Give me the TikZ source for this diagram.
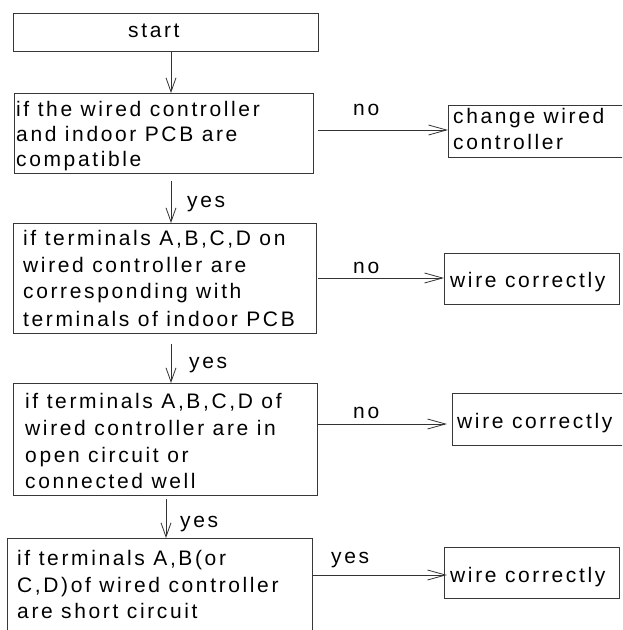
\documentclass[tikz,border=0pt]{standalone}
\usepackage{fontspec}
\setmainfont{Liberation Sans}[LetterSpace=12.5]
\usetikzlibrary{arrows.meta,calc}
\tikzset{
  box/.style={draw=black!78, line width=0.9pt, inner sep=0pt, anchor=north west},
  txt/.style={anchor=base west, inner sep=0pt, font=\fontsize{21}{26}\selectfont},
  conn/.style={draw=black!80, line width=0.8pt},
  arrv/.style={conn, -{Straight Barb[length=14pt,width=10pt]}},
  arrh/.style={conn, -{Straight Barb[length=18pt,width=10pt]}},
}
\begin{document}
\begin{tikzpicture}[x=1pt,y=-1pt]
\useasboundingbox (0,0) rectangle (622,630);
\clip (0,0) rectangle (622,630);
% boxes
\node[box, minimum width=305pt, minimum height=38pt] (s) at (13,13) {};
\node[box, minimum width=299pt, minimum height=80pt] (b2) at (14,93) {};
\node[box, minimum width=180pt, minimum height=52pt] (c1) at (448,105) {};
\node[box, minimum width=303pt, minimum height=110pt] (b3) at (13,223) {};
\node[box, minimum width=175pt, minimum height=51pt] (w2) at (444,253) {};
\node[box, minimum width=304pt, minimum height=112pt] (b4) at (13,383) {};
\node[box, minimum width=175pt, minimum height=52pt] (w3) at (452,393) {};
\node[box, minimum width=305pt, minimum height=100pt] (b5) at (7,538) {};
\node[box, minimum width=175pt, minimum height=51pt] (w4) at (444,547) {};
% texts
\node[txt] (st) at (128,37) {start};
\node[txt] (b2a) at (16,116) {if the wired controller};
\node[txt] (b2b) at (16,141) {and indoor PCB are};
\node[txt] (b2c) at (16,166) {compatible};
\node[txt] (c1a) at (453,123) {change wired};
\node[txt] (c1b) at (453,149) {controller};
\node[txt] (b3a) at (23,245) {if terminals A,B,C,D on};
\node[txt] (b3b) at (23,272) {wired controller are};
\node[txt] (b3c) at (23,298) {corresponding with};
\node[txt] (b3d) at (23,326) {terminals of indoor PCB};
\node[txt] (w2a) at (450,287) {wire correctly};
\node[txt] (b4a) at (25,408) {if terminals A,B,C,D of};
\node[txt] (b4b) at (25,435) {wired controller are in};
\node[txt] (b4c) at (25,462) {open circuit or};
\node[txt] (b4d) at (25,488) {connected well};
\node[txt] (w3a) at (457,428) {wire correctly};
\node[txt] (b5a) at (17,565) {if terminals A,B(or};
\node[txt] (b5b) at (17,592) {C,D)of wired controller};
\node[txt] (b5c) at (17,618) {are short circuit};
\node[txt] (w4a) at (450,582) {wire correctly};
% labels
\node[txt] (n1) at (353,115) {no};
\node[txt] (n2) at (353,273) {no};
\node[txt] (n3) at (353,418) {no};
\node[txt] (y4) at (331,563) {yes};
\node[txt] (y1) at (187,207) {yes};
\node[txt] (y2) at (189,368) {yes};
\node[txt] (y3) at (180,527) {yes};
% guide coordinates
\coordinate (ax) at (171,0);
\coordinate (ax2) at (166,0);
\coordinate (h1) at (0,130);
\coordinate (h2) at (0,278);
\coordinate (h3) at (0,424);
\coordinate (h4) at (0,575);
% vertical connectors
\draw[arrv] (s.south -| ax) -- (b2.north -| ax);
\draw[arrv] ($(b2.south -| ax)+(0,7)$) -- (b3.north -| ax);
\draw[arrv] ($(b3.south -| ax)+(0,10)$) -- (b4.north -| ax);
\draw[arrv] ($(b4.south -| ax2)+(0,3)$) -- (b5.north -| ax2);
% horizontal connectors
\draw[arrh] ($(b2.east |- h1)+(4,0)$) -- (c1.west |- h1);
\draw[arrh] ($(b3.east |- h2)+(1,0)$) -- (w2.west |- h2);
\draw[arrh] (b4.east |- h3) -- ($(w3.west |- h3)+(-5,0)$);
\draw[arrh] (b5.east |- h4) -- ($(w4.west |- h4)+(3,0)$);
\end{tikzpicture}
\end{document}
